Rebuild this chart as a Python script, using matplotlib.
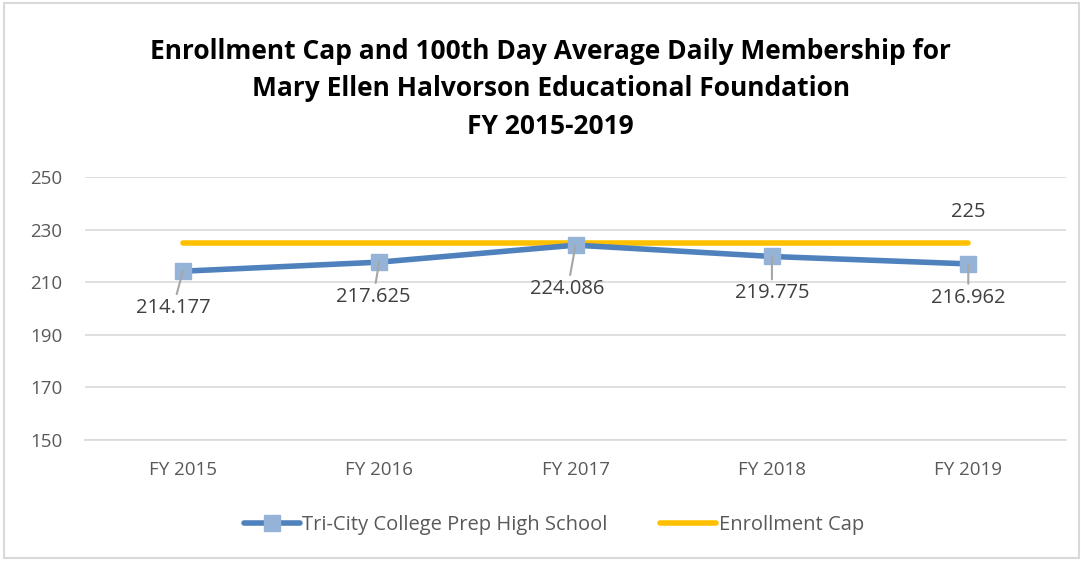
import matplotlib.pyplot as plt
from matplotlib.patches import Rectangle

years = ["FY 2015", "FY 2016", "FY 2017", "FY 2018", "FY 2019"]
adm = [214.177, 217.625, 224.086, 219.775, 216.962]
cap = [225, 225, 225, 225, 225]
adm_labels = ["214.177", "217.625", "224.086", "219.775", "216.962"]
# label offsets in pixels (dx, dy) below each point
label_offsets = [(-10, -37), (-6, -35), (-8, -44), (0, -37), (0, -34)]

plt.rcParams["font.family"] = ["Open Sans", "DejaVu Sans"]

fig = plt.figure(figsize=(10.86, 5.61), dpi=100)
ax = fig.add_axes([0.078, 0.2157, 0.904, 0.4688])

x = list(range(len(years)))
ax.plot(x, cap, color="#FFC000", linewidth=4, solid_capstyle="round",
        label="Enrollment Cap", zorder=3)
ax.plot(x, adm, color="#4F81BD", linewidth=4, solid_capstyle="round",
        marker="s", markersize=11.5, markerfacecolor="#95B3D7",
        markeredgecolor="#95B3D7", label="Tri-City College Prep High School",
        zorder=4)

for xi, yi, txt, (dx, dy) in zip(x, adm, adm_labels, label_offsets):
    ax.annotate(txt, xy=(xi, yi), xytext=(dx, dy), textcoords="offset pixels",
                ha="center", va="center", fontsize=14.5, color="#404040",
                arrowprops=dict(arrowstyle="-", color="#A6A6A6", lw=1.5,
                                shrinkA=1, shrinkB=0), zorder=5)

ax.annotate(str(cap[-1]), xy=(x[-1], cap[-1]), xytext=(0, 31),
            textcoords="offset pixels", ha="center", va="center",
            fontsize=14.5, color="#404040")

ax.set_xlim(-0.5, len(years) - 0.5)
ax.set_ylim(150, 250)
ax.set_yticks(range(150, 251, 20))
ax.set_xticks(x)
ax.set_xticklabels(years)
ax.tick_params(axis="both", length=0, labelsize=13.5, colors="#595959")
ax.tick_params(axis="x", pad=15)
ax.tick_params(axis="y", pad=16)
ax.grid(axis="y", color="#D9D9D9", linewidth=1.2)
ax.set_axisbelow(True)
for side in ["top", "right", "left"]:
    ax.spines[side].set_visible(False)
ax.spines["bottom"].set_color("#D9D9D9")
ax.spines["bottom"].set_linewidth(1.2)

fig.text(0.507, 0.842, "Enrollment Cap and 100th Day Average Daily Membership for\n"
         "Mary Ellen Halvorson Educational Foundation\nFY 2015-2019",
         ha="center", va="center", fontsize=19, fontweight="bold",
         color="black", linespacing=1.5)

handles, labels = ax.get_legend_handles_labels()
fig.legend(handles[::-1], labels[::-1], loc="center", bbox_to_anchor=(0.51, 0.064),
           ncol=2, frameon=False, fontsize=14.5, handlelength=2.8,
           columnspacing=2.6, handletextpad=0.1, labelcolor="#595959")

fig.patches.append(Rectangle((0.004, 0.005), 0.99, 0.99, transform=fig.transFigure,
                             fill=False, edgecolor="#D9D9D9", linewidth=1.5))

fig.savefig("out.png", dpi=100)
